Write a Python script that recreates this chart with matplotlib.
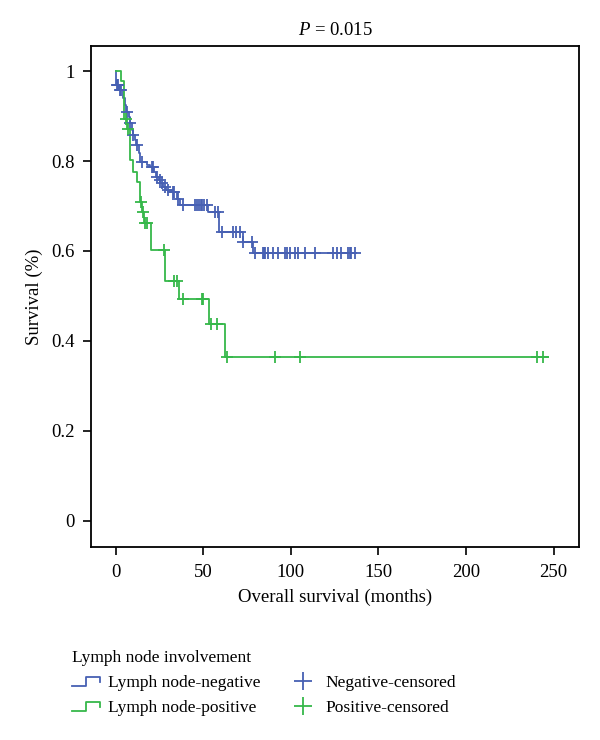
import numpy as np
import matplotlib
matplotlib.use("Agg")
import matplotlib.pyplot as plt
from matplotlib.legend_handler import HandlerBase
from matplotlib.lines import Line2D

plt.rcParams["font.family"] = ["Liberation Serif", "DejaVu Serif"]
plt.rcParams["mathtext.fontset"] = "custom"
plt.rcParams["mathtext.it"] = "Liberation Serif:italic"
plt.rcParams["mathtext.rm"] = "Liberation Serif"

BLUE = "#4760b3"
GREEN = "#36b84a"

# Lymph node-negative: event times (months) and survival after each step
neg_event_months = [0.3, 2.0, 4.0, 5.5, 6.0, 7.5, 8.0, 9.2, 9.8, 11.0, 11.6, 13.2, 13.9,
                    18.1, 19.5, 22.0, 23.0, 24.5, 25.3, 27.0, 28.8, 31.5, 34.8, 36.5,
                    52.9, 59.1, 72.5, 78.2]
neg_surv = [0.969, 0.958, 0.940, 0.925, 0.910, 0.897, 0.884, 0.870, 0.858, 0.846, 0.836,
            0.817, 0.798, 0.791, 0.787, 0.776, 0.765, 0.757, 0.750, 0.743, 0.736, 0.730,
            0.715, 0.702, 0.686, 0.643, 0.621, 0.595]
neg_censor_months = [0.6, 1.3, 2.6, 3.2, 6.3, 8.2, 10.0, 12.0, 14.8, 20.5, 21.2, 23.4,
                     25.0, 26.5, 28.0, 30.0, 32.5, 33.5, 35.5, 38.6, 45.3, 46.5, 47.5,
                     48.5, 49.5, 50.5, 51.9, 56.7, 58.6, 60.5, 67.1, 68.5, 71.0, 72.8,
                     77.6, 79.8, 84.0, 84.5, 85.0, 86.8, 89.7, 92.5, 96.9, 97.7, 99.6,
                     102.1, 104.0, 107.8, 114.0, 124.0, 126.3, 128.8, 132.6, 133.5,
                     134.5, 136.4]

# Lymph node-positive
pos_event_months = [3.0, 5.0, 6.5, 8.3, 10.0, 12.2, 13.7, 14.9, 15.9, 19.9, 28.1, 36.3,
                    53.4, 62.5]
pos_surv = [0.978, 0.893, 0.871, 0.802, 0.776, 0.754, 0.709, 0.686, 0.662, 0.602, 0.534,
            0.493, 0.437, 0.365]
pos_censor_months = [5.6, 7.2, 14.3, 15.3, 16.6, 17.8, 27.3, 33.5, 34.8, 38.6, 49.0,
                     49.7, 54.2, 58.0, 63.8, 90.9, 105.2, 240.6, 243.7]
pos_end_month = 246.9
neg_end_month = 137.0

x_ticks = [0, 50, 100, 150, 200, 250]
y_ticks = [0, 0.2, 0.4, 0.6, 0.8, 1.0]
y_tick_labels = ["0", "0.2", "0.4", "0.6", "0.8", "1"]

FS = 13.5
LEG_FS = 12.5


def km_arrays(events, surv, end):
    t = np.concatenate([[0.0], events, [end]])
    s = np.concatenate([[1.0], surv, [surv[-1]]])
    return t, s


def censor_levels(t, s, censors):
    idx = np.searchsorted(t, censors, side="right") - 1
    return s[idx]


class StepHandler(HandlerBase):
    def create_artists(self, legend, orig_handle, xdescent, ydescent,
                       width, height, fontsize, trans):
        x0, w, h = -xdescent, width, height
        y0 = -ydescent
        xs = [x0, x0 + 0.5 * w, x0 + 0.5 * w, x0 + w, x0 + w]
        ys = [y0 + 0.1 * h, y0 + 0.1 * h, y0 + 0.85 * h, y0 + 0.85 * h, y0 + 0.45 * h]
        line = Line2D(xs, ys, color=orig_handle.get_color(), lw=1.3, transform=trans)
        return [line]


fig = plt.figure(figsize=(6, 7.4), dpi=100)
ax = fig.add_axes([0.152, 0.261, 0.813, 0.677])

t_neg, s_neg = km_arrays(neg_event_months, neg_surv, neg_end_month)
t_pos, s_pos = km_arrays(pos_event_months, pos_surv, pos_end_month)

line_neg, = ax.step(t_neg, s_neg, where="post", color=BLUE, lw=1.3)
line_pos, = ax.step(t_pos, s_pos, where="post", color=GREEN, lw=1.3)

cn = ax.plot(neg_censor_months, censor_levels(t_neg, s_neg, neg_censor_months),
             ls="none", marker="+", ms=8, mew=1.3, color=BLUE)[0]
cp = ax.plot(pos_censor_months, censor_levels(t_pos, s_pos, pos_censor_months),
             ls="none", marker="+", ms=8, mew=1.3, color=GREEN)[0]

ax.set_xlim(-14, 264.5)
ax.set_ylim(-0.058, 1.056)
ax.set_xticks(x_ticks)
ax.set_yticks(y_ticks)
ax.set_yticklabels(y_tick_labels)
ax.tick_params(direction="out", length=6, width=1.2, labelsize=FS, pad=6)
for sp in ax.spines.values():
    sp.set_linewidth(1.3)

ax.set_xlabel("Overall survival (months)", fontsize=FS, labelpad=6)
ax.set_ylabel("Survival (%)", fontsize=FS, labelpad=6)
ax.set_title("$P$ = 0.015", fontsize=FS, pad=8)

leg = fig.legend([line_neg, line_pos, cn, cp],
                 ["Lymph node-negative", "Lymph node-positive",
                  "Negative-censored", "Positive-censored"],
                 handler_map={line_neg: StepHandler(), line_pos: StepHandler()},
                 ncol=2, loc="upper left", bbox_to_anchor=(0.12, 0.121),
                 frameon=False, fontsize=LEG_FS, title="Lymph node involvement",
                 title_fontsize=LEG_FS, alignment="left", handlelength=1.6,
                 handletextpad=0.5, columnspacing=1.6, labelspacing=0.5,
                 markerscale=1.6, borderaxespad=0, borderpad=0)

fig.savefig("out.png", dpi=100)
